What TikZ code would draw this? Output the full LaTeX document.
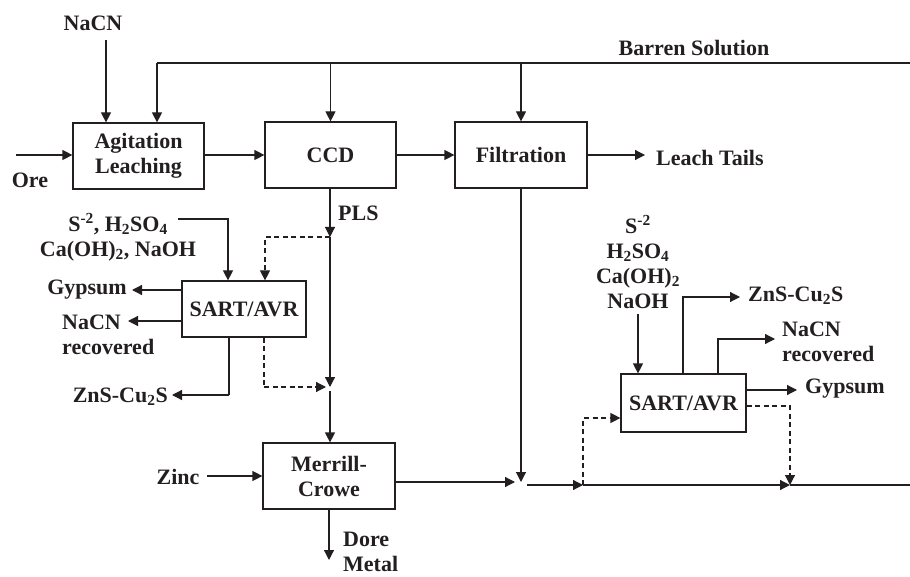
\documentclass[tikz,border=0pt]{standalone}
\usepackage{fontspec}
\setmainfont{Liberation Serif}
\usetikzlibrary{arrows.meta}
\definecolor{ink}{HTML}{231F20}
\begin{document}
\begin{tikzpicture}[x=1pt,y=-1pt,
  every node/.style={font=\fontsize{22}{25}\selectfont\bfseries, text=ink},
  line/.style={draw=ink, line width=1.2pt},
  arr/.style={line, -{Triangle[length=10pt,width=10pt]}},
  darr/.style={arr, dash pattern=on 5pt off 3.5pt},
  dline/.style={line, dash pattern=on 5pt off 3.5pt},
  unit/.style={draw=ink, line width=1.2pt, inner sep=0pt, align=center},
  lbl/.style={inner sep=0pt}]
\useasboundingbox (0,0) rectangle (910,577);

% units
\node[unit, minimum width=131pt, minimum height=66pt] (ag) at (138.5,156) {Agitation\\Leaching};
\node[unit, minimum width=131pt, minimum height=66pt] (ccd) at (330.5,155) {CCD};
\node[unit, minimum width=132pt, minimum height=66pt] (filt) at (521,155) {Filtration};
\node[unit, minimum width=124pt, minimum height=56pt] (sartL) at (244,309) {SART/AVR};
\node[unit, minimum width=132pt, minimum height=66pt] (mc) at (329,476) {Merrill-\\Crowe};
\node[unit, minimum width=125pt, minimum height=58pt] (sartR) at (683.5,403) {SART/AVR};

% labels
\node[lbl] (nacn) at (93,23) {NaCN};
\node[lbl] (barren) at (694,48) {Barren Solution};
\node[lbl] (ore) at (30,180) {Ore};
\node[lbl, anchor=west] (tails) at (656,158) {Leach Tails};
\node[lbl, anchor=west] (pls) at (338,213) {PLS};
\node[lbl, align=center] (chemL) at (118,237) {S\textsuperscript{-2}, H\textsubscript{2}SO\textsubscript{4}\\Ca(OH)\textsubscript{2}, NaOH};
\node[lbl, anchor=east] (gypL) at (127,290) {Gypsum};
\node[lbl, anchor=west, align=left] (nacnL) at (62,335) {NaCN\\recovered};
\node[lbl, anchor=east] (znsL) at (168,397) {ZnS-Cu\textsubscript{2}S};
\node[lbl] (zinc) at (178,477) {Zinc};
\node[lbl, anchor=west, align=left] (dore) at (343,552) {Dore\\Metal};
\node[lbl, align=center] (chemR) at (638,262) {S\textsuperscript{-2}\\H\textsubscript{2}SO\textsubscript{4}\\Ca(OH)\textsubscript{2}\\NaOH};
\node[lbl, anchor=west] (znsR) at (748,296) {ZnS-Cu\textsubscript{2}S};
\node[lbl, anchor=west, align=left] (nacnR) at (782,342) {NaCN\\recovered};
\node[lbl, anchor=west] (gypR) at (805,389) {Gypsum};

% coordinates
\coordinate (b1) at (157,63);
\coordinate (bEnd) at (910,63);
\coordinate (ore0) at (16,155);
\coordinate (tailsEnd) at (645,155);
\coordinate (j1) at (330,237);
\coordinate (j2) at (330,387);
\coordinate (dl1) at (265,237);
\coordinate (dl2) at (264,387);
\coordinate (cl) at (178,219);
\coordinate (cl2) at (228,219);
\coordinate (znsLbend) at (229,395);
\coordinate (znsLend) at (172,395);
\coordinate (zinc0) at (207,476);
\coordinate (doreEnd) at (329,560);
\coordinate (j3in) at (515,482);
\coordinate (j3out) at (527,485);
\coordinate (j4) at (583,485);
\coordinate (j5) at (790,485);
\coordinate (outEnd) at (910,485);
\coordinate (dr1) at (583,418);
\coordinate (dr2) at (790,406);
\coordinate (cr0) at (638,314);
\coordinate (znsRb) at (683,297);
\coordinate (znsRend) at (740,297);
\coordinate (nacnRb) at (718,339);
\coordinate (nacnRend) at (775,339);
\coordinate (gypRend) at (797,390);

% top area
\draw[arr] (106,40) -- (106,0 |- ag.north);
\draw[line] (bEnd) -- (b1);
\draw[arr] (b1) -- (b1 |- ag.north);
\draw[arr] (ccd.north |- b1) -- (ccd.north);
\draw[arr] (filt.north |- b1) -- (filt.north);
\draw[arr] (ore0) -- (ore0 -| ag.west);
\draw[arr] (ag.east |- 0,155) -- (ccd.west |- 0,155);
\draw[arr] (ccd.east) -- (filt.west);
\draw[arr] (filt.east) -- (tailsEnd);

% left SART
\draw[arr] (j1 |- ccd.south) -- (j1);
\draw[arr] (j1) -- (j2);
\draw[darr] (j1) -- (dl1) -- (dl1 |- sartL.north);
\draw[arr] (cl) -- (cl2) -- (cl2 |- sartL.north);
\draw[arr] (sartL.west |- 0,290) -- (132,290);
\draw[arr] (sartL.west |- 0,321) -- (128,321);
\draw[line] (znsLbend |- sartL.south) -- (znsLbend);
\draw[arr] (znsLbend) -- (znsLend);
\draw[dline] (dl2 |- sartL.south) -- (dl2);
\draw[arr, dash pattern=on 5pt off 3.5pt] (dl2) -- ([xshift=-4pt]j2);
\draw[arr] ([yshift=-4pt]j2) -- (j2 |- mc.north);

% Merrill-Crowe
\draw[arr] (zinc0) -- (zinc0 -| mc.west);
\draw[arr] (mc.south) -- (doreEnd);
\draw[arr] (mc.east |- j3in) -- (j3in);
\draw[arr] (filt.south) -- (filt.south |- j3in);
\draw[arr] (j3out) -- (j4);
\draw[arr] (j4) -- (j5);
\draw[line] (j5) -- (outEnd);

% right SART
\draw[darr] (j4) -- (dr1) -- (dr1 -| sartR.west);
\draw[darr] (sartR.east |- dr2) -- (dr2) -- (j5);
\draw[arr] (cr0) -- (cr0 |- sartR.north);
\draw[arr] (znsRb |- sartR.north) -- (znsRb) -- (znsRend);
\draw[arr] (nacnRb |- sartR.north) -- (nacnRb) -- (nacnRend);
\draw[arr] (sartR.east |- gypRend) -- (gypRend);
\end{tikzpicture}
\end{document}
